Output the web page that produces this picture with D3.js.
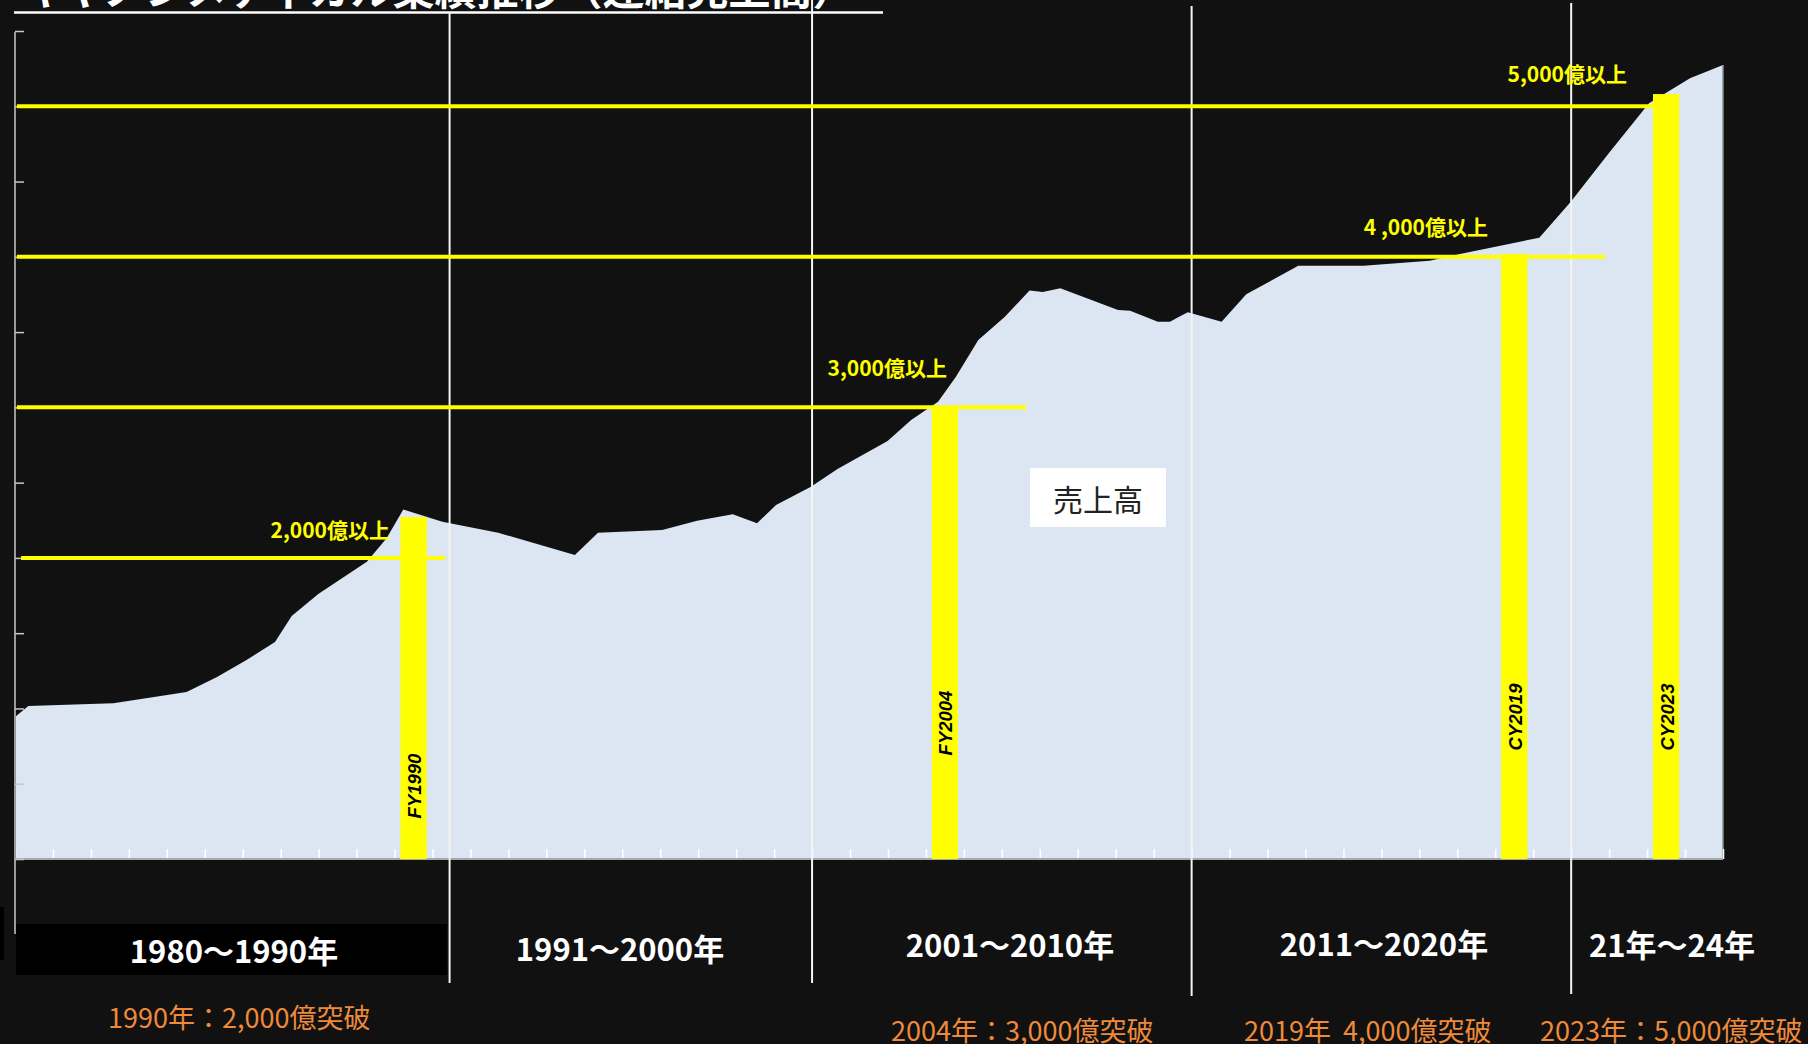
<!DOCTYPE html>
<html>
<head>
<meta charset="utf-8">
<script src="https://cdn.jsdelivr.net/npm/d3@7"></script>
<style>
html,body{margin:0;padding:0;background:#111111;}
svg{display:block;}
</style>
</head>
<body>
<svg id="chart" width="1808" height="1044"></svg>
<script>
// ---------------- DATA ----------------
const titleText = "キヤノンメディカル業績推移（連結売上高）";
const seriesName = "売上高";

// category years on the x axis (one band per year)
const years = d3.range(1980, 2025);

// revenue outline (億円), read at the kinks of the outline; position in (fractional) years
const revenueT = [1980.00, 1980.35, 1982.59, 1984.52, 1985.31, 1986.10, 1986.85, 1987.29, 1987.99, 1989.27,
                  1989.79, 1990.23, 1991.26, 1992.73, 1994.75, 1995.36, 1997.05, 1997.97, 1998.91, 1999.55,
                  2000.05, 2000.97, 2001.67, 2002.99, 2003.61, 2004.32, 2004.79, 2005.38, 2006.08, 2006.73,
                  2007.08, 2007.54, 2009.06, 2009.38, 2010.11, 2010.43, 2010.67, 2010.90, 2011.79, 2012.44,
                  2013.81, 2015.53, 2017.27, 2018.07, 2020.16, 2020.99, 2021.99, 2023.05, 2024.13, 2025.00];
const revenueV = [943, 1016, 1034, 1109, 1207, 1322, 1441, 1614, 1760, 1975,
                  2130, 2321, 2240, 2167, 2019, 2167, 2185, 2247, 2290, 2230,
                  2351, 2473, 2590, 2777, 2916, 3037, 3204, 3447, 3602, 3776,
                  3766, 3791, 3647, 3642, 3569, 3569, 3602, 3631, 3569, 3751,
                  3941, 3941, 3974, 4018, 4127, 4366, 4688, 5020, 5186, 5274];

// milestone bars
const barYears  = [1990, 2004, 2019, 2023];
const barValues = [2272, 2995, 4018, 5081];
const barLabels = ["FY1990", "FY2004", "CY2019", "CY2023"];

// threshold lines
const thresholdValues = [2000, 3000, 4000, 5000];
const thresholdLabels = ["2,000億以上", "3,000億以上", "4 ,000億以上", "5,000億以上"];
const thresholdStartT = [1980.16, 1980.05, 1980.05, 1980.05];
const thresholdEndT   = [1991.33, 2006.64, 2021.89, 2023.84];

// period labels and dividers
const periodLabels = ["1980～1990年", "1991～2000年", "2001～2010年", "2011～2020年", "21年～24年"];
const dividerT = [1991.45, 2001, 2011, 2021];
const milestoneNotes = ["1990年：2,000億突破", "2004年：3,000億突破", "2019年  4,000億突破", "2023年：5,000億突破"];

// y axis ticks (億円)
const yTickValues = [0, 500, 1000, 1500, 2000, 2500, 3000, 3500, 4000, 4500, 5000, 5500];

// ---------------- LAYOUT ----------------
const L = {
  left: 15, right: 1723, bottom: 859, top: 31,
  barLabelCY: [786, 723, 717, 717],
  thrLabelX: [390, 947, 1488, 1627],
  thrLabelY: [538, 376, 235, 82],
  dividerY0: [12, 0, 6, 3],
  dividerY1: [983, 983, 996, 994],
  periodX: [234, 620, 1010, 1384, 1672],
  periodY: [949, 947, 943, 942, 943],
  noteX: [108, 891, 1244, 1540],
  noteY: [1016, 1029, 1029, 1029]
};

const svg = d3.select("#chart");
svg.append("rect").attr("width", 1808).attr("height", 1044).attr("fill", "#111111");

const x = d3.scaleLinear().domain([1980, 2025]).range([L.left, L.right]);
const xb = d3.scaleBand().domain(years).range([L.left, L.right]).paddingInner(0.31).paddingOuter(0.155);
const y = d3.scaleLinear().domain([0, 5500]).range([L.bottom, L.top]);

const jp = "'Noto Sans CJK JP','Noto Sans',sans-serif";

// title (cut at the top of the page)
svg.append("text").attr("x", 22).attr("y", 5)
  .attr("fill", "#fff").attr("font-family", jp).attr("font-weight", 700).attr("font-size", 42)
  .text(titleText);
svg.append("line").attr("x1", 14).attr("x2", 883).attr("y1", 12.5).attr("y2", 12.5)
  .attr("stroke", "#fff").attr("stroke-width", 2.5);

// area
const pts = revenueT.map((t, i) => ({t, v: revenueV[i]}));
svg.append("path").datum(pts)
  .attr("fill", "#DCE6F2")
  .attr("d", d3.area().x(d => x(d.t)).y0(y(0)).y1(d => y(d.v)));
// right edge of plot
svg.append("line").attr("x1", x(2025)).attr("x2", x(2025))
  .attr("y1", y(revenueV[revenueV.length - 1])).attr("y2", y(0))
  .attr("stroke", "#8a8f96").attr("stroke-width", 1.5);

// x ticks (between categories)
const xAxis = svg.append("g").attr("transform", `translate(0,${L.bottom})`)
  .call(d3.axisTop(x).tickValues(d3.range(1980, 2026)).tickSize(10).tickFormat(""));
xAxis.select(".domain").remove();
xAxis.selectAll(".tick line").attr("stroke", "#ffffff").attr("stroke-width", 1.5);
svg.append("line").attr("x1", L.left).attr("x2", L.right).attr("y1", L.bottom).attr("y2", L.bottom)
  .attr("stroke", "#a6a8ab").attr("stroke-width", 2);

// y axis
svg.append("line").attr("x1", L.left).attr("x2", L.left).attr("y1", y(5500) + 1).attr("y2", 934)
  .attr("stroke", "#9a9a9a").attr("stroke-width", 2);
const yAxis = svg.append("g").attr("transform", `translate(${L.left},0)`)
  .call(d3.axisRight(y).tickValues(yTickValues).tickSize(9).tickFormat(""));
yAxis.select(".domain").remove();
yAxis.selectAll(".tick line").attr("stroke", "#c8c8c8").attr("stroke-width", 1.5);

// dividers
svg.selectAll("line.div").data(dividerT).enter().append("line").attr("class", "div")
  .attr("x1", d => x(d)).attr("x2", d => x(d))
  .attr("y1", (d, i) => L.dividerY0[i]).attr("y2", (d, i) => L.dividerY1[i])
  .attr("stroke", "#f4f4f4").attr("stroke-width", 2);

// threshold lines
svg.selectAll("line.thr").data(thresholdValues).enter().append("line").attr("class", "thr")
  .attr("x1", (d, i) => x(thresholdStartT[i])).attr("x2", (d, i) => x(thresholdEndT[i]))
  .attr("y1", d => y(d)).attr("y2", d => y(d))
  .attr("stroke", "#ffff00").attr("stroke-width", 4);

// bars
svg.selectAll("rect.bar").data(barYears).enter().append("rect").attr("class", "bar")
  .attr("x", d => xb(d)).attr("width", xb.bandwidth())
  .attr("y", (d, i) => y(barValues[i])).attr("height", (d, i) => y(0) - y(barValues[i]))
  .attr("fill", "#ffff00");
svg.selectAll("text.barlab").data(barYears).enter().append("text").attr("class", "barlab")
  .attr("transform", (d, i) => `translate(${xb(d) + xb.bandwidth() / 2 + 1},${L.barLabelCY[i]}) rotate(-90)`)
  .attr("text-anchor", "middle").attr("dominant-baseline", "central")
  .attr("font-family", "'Liberation Sans',Arial,sans-serif").attr("font-weight", 700)
  .attr("font-style", "italic").attr("font-size", 18.5).attr("fill", "#000")
  .text((d, i) => barLabels[i]);

// threshold labels
svg.selectAll("text.thrlab").data(thresholdLabels).enter().append("text").attr("class", "thrlab")
  .attr("x", (d, i) => L.thrLabelX[i]).attr("y", (d, i) => L.thrLabelY[i])
  .attr("text-anchor", "end").attr("font-family", jp).attr("font-weight", 700)
  .attr("font-size", 21).attr("fill", "#ffff00").text(d => d);

// series label box
svg.append("rect").attr("x", 1030).attr("y", 468).attr("width", 136).attr("height", 59).attr("fill", "#fff");
svg.append("text").attr("x", 1098).attr("y", 498).attr("text-anchor", "middle").attr("dominant-baseline", "central")
  .attr("font-family", jp).attr("font-size", 30).attr("fill", "#222").text(seriesName);

// period labels
svg.append("rect").attr("x", 0).attr("y", 907).attr("width", 4).attr("height", 53).attr("fill", "#000");
svg.append("rect").attr("x", 16).attr("y", 924).attr("width", 431).attr("height", 51).attr("fill", "#000");
svg.selectAll("text.period").data(periodLabels).enter().append("text").attr("class", "period")
  .attr("x", (d, i) => L.periodX[i]).attr("y", (d, i) => L.periodY[i])
  .attr("text-anchor", "middle").attr("dominant-baseline", "central")
  .attr("font-family", jp).attr("font-weight", 700).attr("font-size", 31).attr("fill", "#fff")
  .text(d => d);

// milestone notes
svg.selectAll("text.note").data(milestoneNotes).enter().append("text").attr("class", "note")
  .attr("x", (d, i) => L.noteX[i]).attr("y", (d, i) => L.noteY[i])
  .attr("dominant-baseline", "central").attr("xml:space", "preserve")
  .style("white-space", "pre")
  .attr("font-family", jp).attr("font-size", 27).attr("fill", "#ee8a3a")
  .text(d => d);
</script>
</body>
</html>
